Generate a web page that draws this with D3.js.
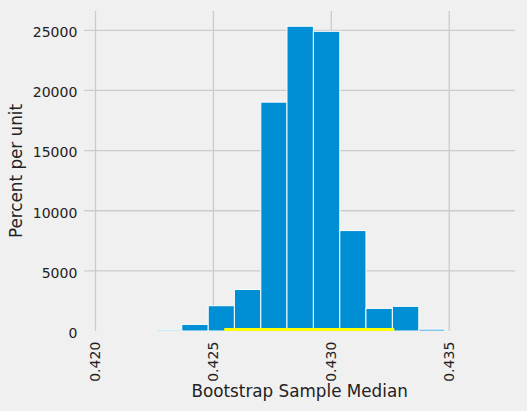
<!DOCTYPE html>
<html>
<head>
<meta charset="utf-8">
<script src="https://cdn.jsdelivr.net/npm/d3@7"></script>
<style>
    body { margin: 0; background: #f0f0f0; }
    text { font-family: "DejaVu Sans", sans-serif; fill: #222; }
</style>
</head>
<body>
<script>
// histogram bins (left/right edges) and heights in percent per unit
var binEdges = [0.42254, 0.42366, 0.42478, 0.42589, 0.42701, 0.42812,
    0.42924, 0.43036, 0.43147, 0.43259, 0.43371, 0.43482];
var binHeights = [100, 550, 2100, 3450, 19030, 25340, 24920, 8350, 1880, 2050, 150];
var ciBounds = [0.42546, 0.43267];
var xTicks = [0.420, 0.425, 0.430, 0.435];
var yTicks = [0, 5000, 10000, 15000, 20000, 25000];
var xDomain = [0.419525, 0.43779];
var xLabel = "Bootstrap Sample Median";
var yLabel = "Percent per unit";

var bins = binHeights.map(function (h, i) {
    return { x0: binEdges[i], x1: binEdges[i + 1], h: h };
});

var width = 527, height = 411;
var m = [11, 12, 80, 84.3]; //top right bottom left
var w = width - m[1] - m[3], h = height - m[0] - m[2];

var x = d3.scaleLinear().domain(xDomain).range([0, w]);
var y = d3.scaleLinear().domain([0, d3.max(binHeights) * 1.05]).range([h, 0]);

var svg = d3.select("body")
    .append("svg")
    .attr("width", width)
    .attr("height", height)
    .style("background", "#f0f0f0");

svg.append("defs").append("clipPath")
    .attr("id", "clip")
    .append("rect")
    .attr("width", w)
    .attr("height", h);

var g = svg.append("g")
    .attr("transform", "translate(" + m[3] + "," + m[0] + ")");

//grid (the zero line sits on the axes edge and is not visible)
g.append("g").selectAll(".vgrid")
    .data(xTicks)
    .enter().append("line")
    .attr("x1", function (d) { return x(d); })
    .attr("x2", function (d) { return x(d); })
    .attr("y1", 0)
    .attr("y2", h)
    .attr("stroke", "#cbcbcb")
    .attr("stroke-width", 1.3);
g.append("g").selectAll(".hgrid")
    .data(yTicks.filter(function (d) { return d > 0; }))
    .enter().append("line")
    .attr("x1", 0)
    .attr("x2", w)
    .attr("y1", function (d) { return y(d); })
    .attr("y2", function (d) { return y(d); })
    .attr("stroke", "#cbcbcb")
    .attr("stroke-width", 1.3);

//bars
var plot = g.append("g").attr("clip-path", "url(#clip)");
plot.append("g").selectAll("rect")
    .data(bins)
    .enter().append("rect")
    .attr("x", function (d) { return x(d.x0); })
    .attr("y", function (d) { return y(d.h); })
    .attr("width", function (d) { return x(d.x1) - x(d.x0); })
    .attr("height", function (d) { return y(0) - y(d.h); })
    .attr("fill", "#008fd5")
    .attr("stroke", "#ffffff")
    .attr("stroke-width", 1);

//confidence interval
plot.append("line")
    .attr("x1", x(ciBounds[0]))
    .attr("x2", x(ciBounds[1]))
    .attr("y1", y(0))
    .attr("y2", y(0))
    .attr("stroke", "#ffff00")
    .attr("stroke-width", 6);

//tick labels
g.append("g").selectAll(".xtick")
    .data(xTicks)
    .enter().append("text")
    .text(function (d) { return d3.format(".3f")(d); })
    .attr("transform", function (d) { return "translate(" + x(d) + "," + (h + 10.7) + ") rotate(-90)"; })
    .attr("dy", "0.35em")
    .attr("text-anchor", "end")
    .style("font-size", "14px");
g.append("g").selectAll(".ytick")
    .data(yTicks)
    .enter().append("text")
    .text(function (d) { return d; })
    .attr("x", -7)
    .attr("y", function (d) { return y(d) + 2; })
    .attr("dy", "0.35em")
    .attr("text-anchor", "end")
    .style("font-size", "14px");

//axis labels
svg.append("text")
    .text(xLabel)
    .attr("x", m[3] + w / 2)
    .attr("y", 397)
    .attr("text-anchor", "middle")
    .style("font-size", "16.8px");
svg.append("text")
    .text(yLabel)
    .attr("transform", "translate(22," + (m[0] + h / 2) + ") rotate(-90)")
    .attr("text-anchor", "middle")
    .style("font-size", "16.8px");
</script>
</body>
</html>
